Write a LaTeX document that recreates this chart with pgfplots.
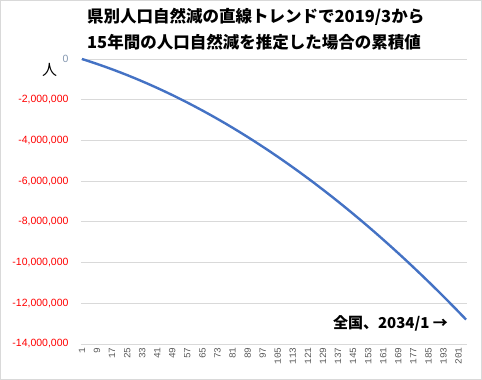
\documentclass[border=0pt]{standalone}
\usepackage{pgfplots}
\pgfplotsset{compat=1.18}
\usepackage{fontspec}
\setmainfont{Liberation Sans}
\newfontfamily\jp{Noto Sans CJK JP}
\newfontfamily\mono{Liberation Mono}
\definecolor{gridgray}{RGB}{217,217,217}
\definecolor{linecol}{RGB}{68,114,196}
\definecolor{tickgray}{RGB}{89,89,89}
\definecolor{zerocol}{RGB}{132,151,176}
\begin{document}
\begin{tikzpicture}[x=1pt,y=1pt]
\useasboundingbox (0,0) rectangle (482,380);
\draw[color=gridgray, line width=1pt] (0.5,0.5) rectangle (481.5,379.5);
\begin{axis}[at={(81pt,36pt)}, anchor=south west, scale only axis,
  width=386pt, height=285pt,
  xmin=0.5, xmax=205.5, ymin=-14000000, ymax=0,
  axis line style={draw=none}, tick style={draw=none},
  ymajorgrids, grid style={color=gridgray, line width=0.8pt},
  scaled y ticks=false,
  ytick={-14000000,-12000000,-10000000,-8000000,-6000000,-4000000,-2000000,0},
  yticklabels={\textcolor{red}{-14,000,000},\textcolor{red}{-12,000,000},\textcolor{red}{-10,000,000},\textcolor{red}{-8,000,000},\textcolor{red}{-6,000,000},\textcolor{red}{-4,000,000},\textcolor{red}{-2,000,000},\textcolor{zerocol}{0}},
  yticklabel style={font=\fontsize{10.5}{12}\selectfont, xshift=-9pt},
  xtick={1,9,17,25,33,41,49,57,65,73,81,89,97,105,113,121,129,137,145,153,161,169,177,185,193,201},
  xticklabels={1,9,17,25,33,41,49,57,65,73,81,89,97,105,113,121,129,137,145,153,161,169,177,185,193,201},
  xticklabel style={rotate=90, anchor=east, font=\mono\fontsize{9.5}{10}\selectfont, text=tickgray},
  clip=false,
]
\addplot[color=linecol, line width=2.4pt, mark=none] coordinates {
(1,0) (5,-118500) (9,-242300) (13,-371400) (17,-505800) (21,-645500)
(25,-790500) (29,-940800) (33,-1096400) (37,-1257200) (41,-1423500)
(45,-1594900) (49,-1771700) (53,-1953800) (57,-2141200) (61,-2333900)
(65,-2531900) (69,-2735100) (73,-2943800) (77,-3157600) (81,-3376800)
(85,-3601300) (89,-3831100) (93,-4066100) (97,-4306500) (101,-4552200)
(105,-4803100) (109,-5059500) (113,-5321000) (117,-5587900) (121,-5860000)
(125,-6137600) (129,-6420300) (133,-6708400) (137,-7001800) (141,-7300500)
(145,-7604300) (149,-7913800) (153,-8228200) (157,-8548100) (161,-8873300)
(165,-9203700) (169,-9539400) (173,-9880500) (177,-10226900) (181,-10578600)
(185,-10935400) (189,-11297700) (193,-11665300) (197,-12038100) (201,-12416400)
(205,-12799800)
};
\end{axis}
\node[anchor=west, font=\jp\bfseries\fontsize{16.5}{20}\selectfont, inner sep=0pt] at (87,363) {県別人口自然減の直線トレンドで2019/3から};
\node[anchor=west, font=\jp\bfseries\fontsize{16.5}{20}\selectfont, inner sep=0pt] at (87,338) {15年間の人口自然減を推定した場合の累積値};
\node[font=\jp\fontsize{15}{15}\selectfont, inner sep=0pt] at (49.5,310) {人};
\node[font=\jp\bfseries\fontsize{15}{15}\selectfont, inner sep=0pt] at (390.5,57) {全国、2034/1 →};
\end{tikzpicture}
\end{document}
